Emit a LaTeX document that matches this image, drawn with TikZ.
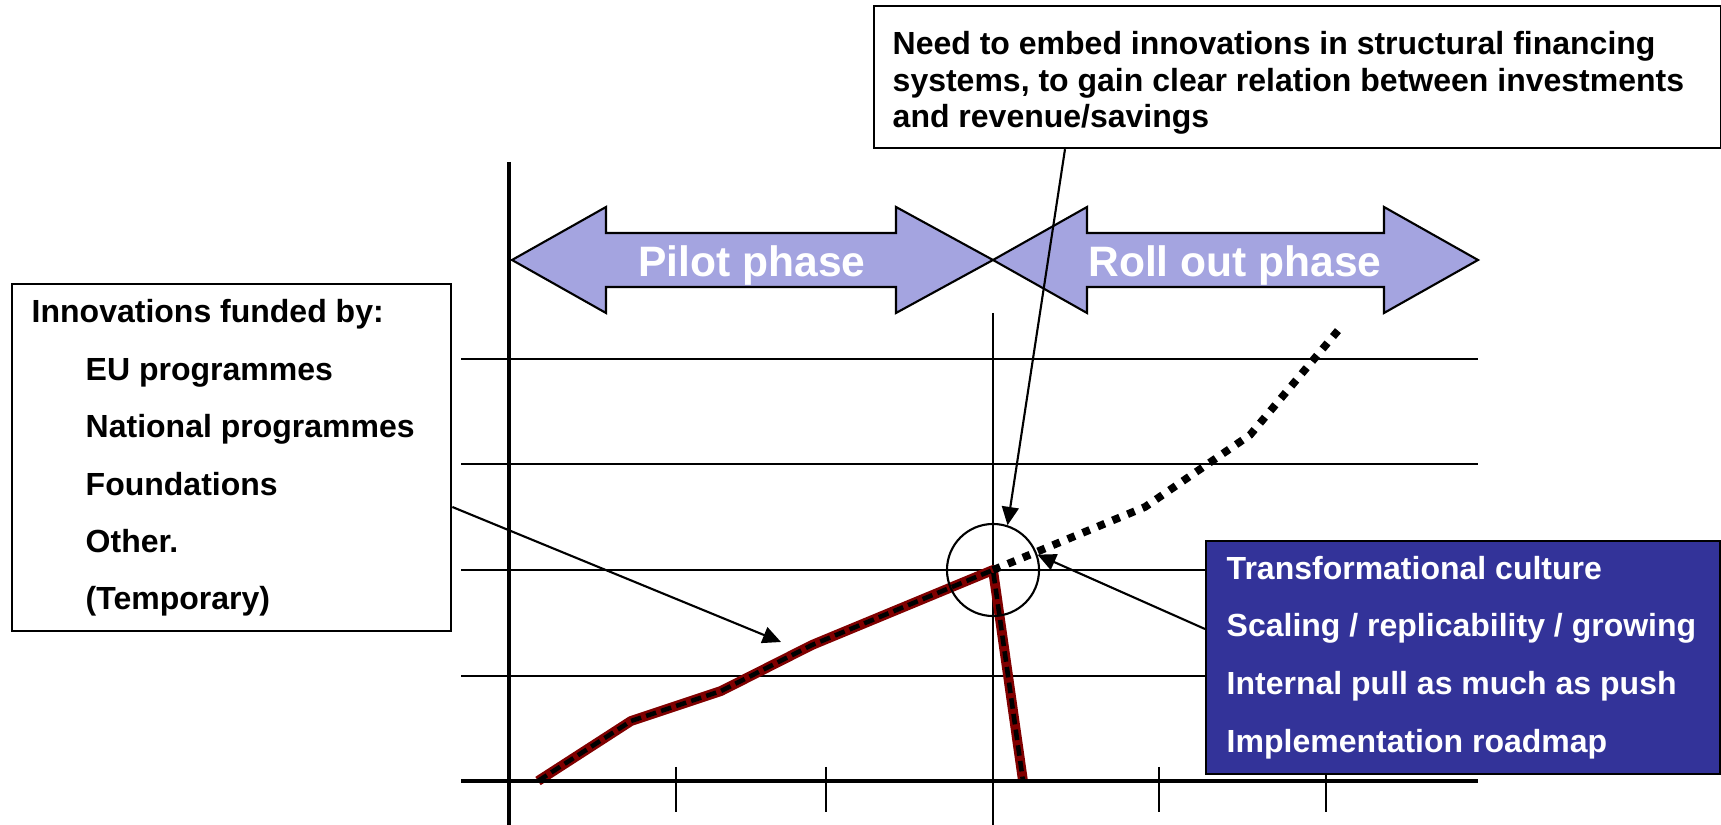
\documentclass[tikz,border=0pt]{standalone}
\usepackage{fontspec}
\setmainfont{Liberation Sans}
\usetikzlibrary{arrows.meta}
\definecolor{arrowfill}{RGB}{164,164,224}
\definecolor{boxblue}{RGB}{51,51,153}
\definecolor{darkred}{RGB}{128,0,0}
\begin{document}
\begin{tikzpicture}[x=0.01cm,y=-0.01cm,
  txt/.style={anchor=base west, inner sep=0pt, font=\fontsize{9.1}{11}\selectfont\bfseries},
  wtxt/.style={txt, text=white},
  phasetxt/.style={anchor=base, inner sep=0pt, text=white, font=\fontsize{12.1}{15}\selectfont\bfseries},
  gridline/.style={line width=0.6pt},
  axisline/.style={line width=1.4pt},
  conn/.style={line width=0.6pt, -{Triangle[length=5.2pt,width=4.8pt]}},
  phasearrow/.style={draw=black, line width=0.6pt, fill=arrowfill, line join=miter},
  framebox/.style={draw=black, line width=0.6pt, inner sep=0pt, anchor=north west},
  redline/.style={darkred, line width=2.8pt, line join=round},
  blackdash/.style={black, line width=1.3pt, dash pattern=on 3pt off 1.5pt, line join=round},
  dotline/.style={black, line width=2.2pt, dash pattern=on 2.2pt off 2.4pt}]
\useasboundingbox (0,0) rectangle (1721,825);

% horizontal grid lines
\draw[gridline] (461,359) -- (1478,359);
\draw[gridline] (461,464) -- (1478,464);
\draw[gridline] (461,570) -- (1478,570);
\draw[gridline] (461,676) -- (1478,676);

% vertical line at end of pilot phase
\draw[gridline] (993,313) -- (993,825);

% ticks
\foreach \tx in {676,826,1159,1326}
  \draw[gridline] (\tx,767) -- (\tx,812);

% phase arrows
\draw[phasearrow] (512,260) -- (606,207) -- (606,233) -- (896,233) -- (896,207) -- (993,260)
  -- (896,313) -- (896,287) -- (606,287) -- (606,313) -- cycle;
\draw[phasearrow] (993,260) -- (1087,207) -- (1087,233) -- (1384,233) -- (1384,207) -- (1478,260)
  -- (1384,313) -- (1384,287) -- (1087,287) -- (1087,313) -- cycle;
\node[phasetxt] (pilot) at (752,277) {Pilot phase};
\node[phasetxt] (roll) at (1235,277) {Roll out phase};

% red curve with black dashes
\coordinate (r0) at (538,781);
\coordinate (r1) at (631,721);
\coordinate (r2) at (721,691);
\coordinate (r3) at (812,645);
\coordinate (r4) at (993,570);
\coordinate (r5) at (1023,781);
\draw[redline] (r0) -- (r1) -- (r2) -- (r3) -- (r4) -- (r5);
\draw[blackdash] (r0) -- (r1) -- (r2) -- (r3) -- (r4) -- (r5);

% dotted continuation
\coordinate (d1) at (1145,507);
\coordinate (d2) at (1250,435);
\coordinate (d3) at (1341,327);
\draw[dotline] (r4) -- (d1) -- (d2) -- (d3);

% axes
\draw[axisline] (509,162) -- (509,825);
\draw[axisline] (461,781) -- (1478,781);

% circle
\node[circle, draw=black, line width=0.6pt, minimum size=0.92cm, inner sep=0pt] (circ) at (993,570) {};

% left box
\node[framebox, minimum width=4.39cm, minimum height=3.47cm] (boxL) at (11,283) {};
\node[txt] (l1) at (31,323) {Innovations funded by:};
\node[txt] (l2) at (85,381) {EU programmes};
\node[txt] (l3) at (85,438) {National programmes};
\node[txt] (l4) at (85,496) {Foundations};
\node[txt] (l5) at (85,553) {Other.};
\node[txt] (l6) at (85,610) {(Temporary)};

% top box
\node[framebox, fill=white, minimum width=8.46cm, minimum height=1.42cm] (boxT) at (873,5) {};
\node[txt] (t1) at (892,55) {Need to embed innovations in structural financing};
\node[txt] (t2) at (892,92) {systems, to gain clear relation between investments};
\node[txt] (t3) at (892,128) {and revenue/savings};

% blue box
\node[framebox, fill=boxblue, minimum width=5.14cm, minimum height=2.33cm] (boxB) at (1205,540) {};
\node[wtxt] (b1) at (1226,580) {Transformational culture};
\node[wtxt] (b2) at (1226,637) {Scaling / replicability / growing};
\node[wtxt] (b3) at (1226,695) {Internal pull as much as push};
\node[wtxt] (b4) at (1226,752) {Implementation roadmap};

% connectors
\coordinate (lyA) at (0,507);
\coordinate (lend) at (781,642);
\draw[conn] (boxL.east |- lyA) -- (lend);
\coordinate (txA) at (1065,0);
\draw[conn] (boxT.south -| txA) -- (circ.72);
\coordinate (byA) at (0,629);
\draw[conn] (boxB.west |- byA) -- (circ.19);
\end{tikzpicture}
\end{document}
